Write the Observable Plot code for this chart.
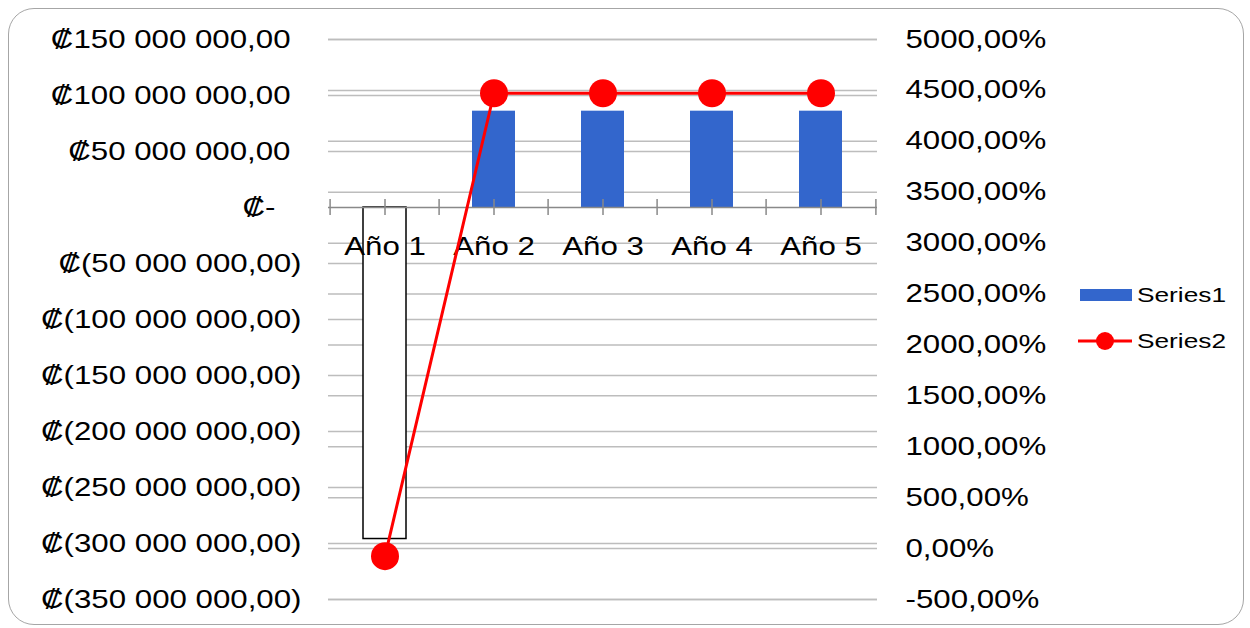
<!DOCTYPE html>
<html>
<head>
<meta charset="utf-8">
<script src="https://cdn.jsdelivr.net/npm/d3@7"></script>
<script src="https://cdn.jsdelivr.net/npm/@observablehq/plot@0.6"></script>
<style>
  body { margin: 0; background: #fff; }
  #wrap { position: relative; width: 1250px; height: 628px; overflow: hidden; font-family: "Liberation Sans", Arial, sans-serif; }
  #frame { position: absolute; left: 8px; top: 8px; width: 1236px; height: 617px; box-sizing: border-box;
           border: 1.5px solid #a6a6a6; border-radius: 26px; pointer-events: none; }
  #chart { position: absolute; left: 0; top: 0; }
  .leg { position: absolute; left: 1076px; height: 24px; display: flex; align-items: center; }
  .leg .lab { display: inline-block; font-size: 21px; color: #000; transform: scaleX(1.25); transform-origin: left center; margin-left: 3px; }
</style>
</head>
<body>
<div id="wrap">
  <div id="chart"></div>
  <div id="frame"></div>
</div>
<script>
// Categories and series
const years = ["Año 1", "Año 2", "Año 3", "Año 4", "Año 5"];
const series1 = [-296000000, 86000000, 86000000, 86000000, 86000000];   // colones
const series2 = [-74, 4472, 4472, 4472, 4472];                          // percent
const seriesNames = ["Series1", "Series2"];

// Axis ticks
const leftTicks = [-350000000, -300000000, -250000000, -200000000, -150000000, -100000000,
                   -50000000, 0, 50000000, 100000000, 150000000];
const rightTicks = [-500, 0, 500, 1000, 1500, 2000, 2500, 3000, 3500, 4000, 4500, 5000];

const barColor = "#3366cc";
const lineColor = "#ff0000";
const gridColor = "#bdbdbd";
const axisColor = "#898989";

const W = 1250, H = 628;
const mLeft = 328, mRight = 373, mTop = 39, mBottom = 29;
const bandW = (W - mLeft - mRight) / years.length;

// Secondary (percent) axis expressed in primary-axis units
const toLeft = d3.scaleLinear().domain([rightTicks[0], rightTicks[rightTicks.length - 1]])
                               .range([leftTicks[0], leftTicks[leftTicks.length - 1]]);

const fmtColones = v => {
  if (v === 0) return "₡-";
  const s = d3.format(",.2f")(Math.abs(v)).replace(/,/g, " ").replace(".", ",");
  return v < 0 ? `₡(${s})` : `₡${s}`;
};
const fmtPct = v => Math.round(v).toFixed(2).replace(".", ",") + "%";

const rows1 = years.map((c, i) => ({cat: c, v: series1[i]}));
const rows2 = years.map((c, i) => ({cat: c, p: series2[i]}));

const tickRule = (data, dx) => Plot.ruleX(data, {
  x: d => d, y1: 0, y2: 0, insetTop: -8, insetBottom: -8, dx, stroke: axisColor, strokeWidth: 1.5
});

const svg = Plot.plot({
  width: W, height: H,
  marginLeft: mLeft, marginRight: mRight, marginTop: mTop, marginBottom: mBottom,
  style: {fontFamily: "'Liberation Sans', Arial, sans-serif", fontSize: "25px", color: "#000", background: "transparent"},
  x: {type: "band", domain: years, padding: 0, axis: null},
  y: {domain: [leftTicks[0], leftTicks[leftTicks.length - 1]], nice: false, axis: null, label: null},
  marks: [
    // gridlines for both axes
    Plot.ruleY(leftTicks.filter(v => v !== 0), {stroke: gridColor, strokeWidth: 1.5}),
    Plot.ruleY(rightTicks.map(toLeft), {stroke: gridColor, strokeWidth: 1.5}),
    // Series1 columns
    Plot.barY(rows1.filter(d => d.v >= 0), {x: "cat", y: "v", fill: barColor, insetLeft: 33, insetRight: 33}),
    Plot.barY(rows1.filter(d => d.v < 0), {x: "cat", y: "v", fill: "white", stroke: "#000", strokeWidth: 1.5, insetLeft: 33, insetRight: 33}),
    // category axis at zero
    Plot.ruleY([0], {stroke: axisColor, strokeWidth: 1.5}),
    tickRule(years, -bandW / 2),
    tickRule(years, 0),
    tickRule([years[years.length - 1]], bandW / 2),
    Plot.text(years, {x: d => d, y: 0, dy: 39, text: d => d, textAnchor: "middle", lineAnchor: "middle", fill: "#000"}),
    // primary axis labels
    Plot.axisY(leftTicks.filter(v => v > 0), {anchor: "left", tickSize: 0, tickPadding: 38, tickFormat: fmtColones, label: null}),
    Plot.axisY(leftTicks.filter(v => v < 0), {anchor: "left", tickSize: 0, tickPadding: 27, tickFormat: fmtColones, label: null}),
    Plot.axisY([0], {anchor: "left", tickSize: 0, tickPadding: 53, tickFormat: fmtColones, label: null}),
    // secondary axis labels
    Plot.axisY(rightTicks.map(toLeft), {anchor: "right", tickSize: 0, tickPadding: 28,
      tickFormat: d => fmtPct(toLeft.invert(d)), label: null}),
    // Series2 line with markers
    Plot.line(rows2, {x: "cat", y: d => toLeft(d.p), stroke: lineColor, strokeWidth: 3}),
    Plot.dot(rows2, {x: "cat", y: d => toLeft(d.p), r: 14, fill: lineColor})
  ]
});

// widen the Arial-like lettering
svg.querySelectorAll("text").forEach(t => {
  const x = +t.getAttribute("x") || 0, y = +t.getAttribute("y") || 0;
  const tr = t.getAttribute("transform") || "";
  t.setAttribute("transform", `${tr} translate(${x},${y}) scale(1.25,1) translate(${-x},${-y})`);
});
document.getElementById("chart").appendChild(svg);

// legend
const wrap = document.getElementById("wrap");
const leg1 = document.createElement("div");
leg1.className = "leg";
leg1.style.top = "283px";
leg1.innerHTML = `<svg width="58" height="24"><rect x="4" y="6" width="52" height="12" fill="${barColor}"></rect></svg><span class="lab">${seriesNames[0]}</span>`;
wrap.appendChild(leg1);
const leg2 = document.createElement("div");
leg2.className = "leg";
leg2.style.top = "329px";
leg2.innerHTML = `<svg width="58" height="24"><line x1="2" x2="56" y1="12" y2="12" stroke="${lineColor}" stroke-width="3"></line><circle cx="29" cy="12" r="9" fill="${lineColor}"></circle></svg><span class="lab">${seriesNames[1]}</span>`;
wrap.appendChild(leg2);
</script>
</body>
</html>
